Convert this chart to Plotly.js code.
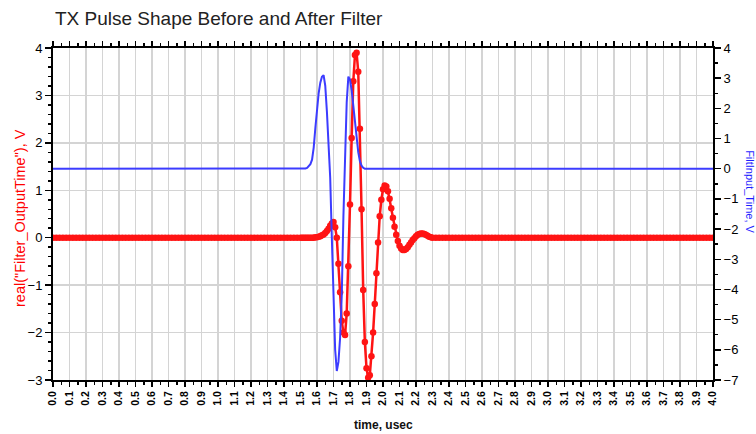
<!DOCTYPE html>
<html>
<head>
<meta charset="utf-8">
<script src="https://cdn.plot.ly/plotly-3.0.1.min.js"></script>
<style>html,body{margin:0;padding:0;background:#fff;}#chart{width:756px;height:434px;}</style>
</head>
<body>
<div id="chart"></div>
<script>
// Filter output (left axis, red) sample times in usec
const redTime = [
0,0.02,0.04,0.06,0.08,0.1,0.12,0.14,0.16,0.18,0.2,0.22,0.24,0.26,0.28,0.3,0.32,0.34,0.36,0.38,
0.4,0.42,0.44,0.46,0.48,0.5,0.52,0.54,0.56,0.58,0.6,0.62,0.64,0.66,0.68,0.7,0.72,0.74,0.76,0.78,
0.8,0.82,0.84,0.86,0.88,0.9,0.92,0.94,0.96,0.98,1,1.02,1.04,1.06,1.08,1.1,1.12,1.14,1.16,1.18,
1.2,1.22,1.24,1.26,1.28,1.3,1.32,1.34,1.36,1.38,1.4,1.42,1.44,1.46,1.48,
1.5,1.51,1.52,1.53,1.54,1.55,1.56,1.57,1.58,1.59,1.6,1.61,1.62,1.63,1.64,1.65,1.66,1.67,1.68,1.69,
1.7,1.71,1.72,1.73,1.74,1.75,1.76,1.77,1.78,1.79,1.8,1.81,1.82,1.83,1.84,1.85,1.86,1.87,1.88,1.89,
1.9,1.91,1.92,1.93,1.94,1.95,1.96,1.97,1.98,1.99,2,2.01,2.02,2.03,2.04,2.05,2.06,2.07,2.08,2.09,
2.1,2.11,2.12,2.13,2.14,2.15,2.16,2.17,2.18,2.19,2.2,2.21,2.22,2.23,2.24,2.25,2.26,2.27,2.28,2.29,2.3,
2.32,2.34,2.36,2.38,2.4,2.42,2.44,2.46,2.48,2.5,2.52,2.54,2.56,2.58,2.6,2.62,2.64,2.66,2.68,2.7,
2.72,2.74,2.76,2.78,2.8,2.82,2.84,2.86,2.88,2.9,2.92,2.94,2.96,2.98,3,3.02,3.04,3.06,3.08,3.1,
3.12,3.14,3.16,3.18,3.2,3.22,3.24,3.26,3.28,3.3,3.32,3.34,3.36,3.38,3.4,3.42,3.44,3.46,3.48,3.5,
3.52,3.54,3.56,3.58,3.6,3.62,3.64,3.66,3.68,3.7,3.72,3.74,3.76,3.78,3.8,3.82,3.84,3.86,3.88,3.9,
3.92,3.94,3.96,3.98,4
];
// real("Filter_OutputTime"), V
const redValue = [
0,0,0,0,0,0,0,0,0,0,0,0,0,0,0,0,0,0,0,0,
0,0,0,0,0,0,0,0,0,0,0,0,0,0,0,0,0,0,0,0,
0,0,0,0,0,0,0,0,0,0,0,0,0,0,0,0,0,0,0,0,
0,0,0,0,0,0,0,0,0,0,0,0,0,0,0,
0,0,0,0,0,0,0,0,0,0.01,0.01,0.02,0.03,0.05,0.07,0.1,0.14,0.19,0.25,0.3,
0.33,0.22,0,-0.55,-1.15,-1.75,-2.0,-2.05,-1.6,-0.6,0.7,2.1,3.3,3.85,3.9,3.5,2.3,0.6,-1.1,-2.2,
-2.75,-2.95,-2.9,-2.5,-2.0,-1.4,-0.75,-0.1,0.45,0.8,1.02,1.1,1.08,0.98,0.82,0.62,0.42,0.23,0.06,-0.07,
-0.17,-0.23,-0.26,-0.26,-0.24,-0.2,-0.15,-0.1,-0.05,-0.01,0.03,0.06,0.08,0.09,0.09,0.08,0.06,0.04,0.02,0.01,0,
0,0,0,0,0,0,0,0,0,0,0,0,0,0,0,0,0,0,0,0,
0,0,0,0,0,0,0,0,0,0,0,0,0,0,0,0,0,0,0,0,
0,0,0,0,0,0,0,0,0,0,0,0,0,0,0,0,0,0,0,0,
0,0,0,0,0,0,0,0,0,0,0,0,0,0,0,0,0,0,0,0,
0,0,0,0,0
];
// Filter input (right axis, blue)
const blueTime = [
0,1.5,1.51,1.52,1.53,1.54,1.55,1.56,1.57,1.58,1.59,1.6,1.61,1.62,1.63,1.64,1.65,1.66,1.67,1.68,1.69,
1.7,1.71,1.72,1.73,1.74,1.75,1.76,1.77,1.78,1.79,1.8,1.81,1.82,1.83,1.84,1.85,1.86,1.87,1.88,1.89,1.9,4
];
const blueValue = [
0,0,0,0,0.01,0.03,0.08,0.15,0.3,0.7,1.35,1.95,2.5,2.85,3.05,3.1,2.75,1.9,0.9,-0.3,-2.3,
-4.6,-6.0,-6.7,-6.4,-5.6,-4.2,-1.6,0.6,2.2,3.05,2.95,2.6,2.1,1.55,1.0,0.55,0.25,0.1,0.03,0,0,0
];
const xTickVals = [0,0.1,0.2,0.3,0.4,0.5,0.6,0.7,0.8,0.9,1,1.1,1.2,1.3,1.4,1.5,1.6,1.7,1.8,1.9,2,
2.1,2.2,2.3,2.4,2.5,2.6,2.7,2.8,2.9,3,3.1,3.2,3.3,3.4,3.5,3.6,3.7,3.8,3.9,4];
const xTickText = ["0.0","0.1","0.2","0.3","0.4","0.5","0.6","0.7","0.8","0.9","1.0","1.1","1.2","1.3","1.4",
"1.5","1.6","1.7","1.8","1.9","2.0","2.1","2.2","2.3","2.4","2.5","2.6","2.7","2.8","2.9","3.0",
"3.1","3.2","3.3","3.4","3.5","3.6","3.7","3.8","3.9","4.0"];
const leftTitle = 'real("Filter_OutputTime"), V';
const rightTitle = 'FiltInput_Time, V';
const chartTitle = 'TX Pulse Shape Before and After Filter';
const xTitle = 'time, usec';

const traces = [
  {x: blueTime, y: blueValue, type: 'scatter', mode: 'lines', yaxis: 'y2',
   line: {color: 'rgb(60,60,255)', width: 2}, hoverinfo: 'skip'},
  {x: redTime, y: redValue, type: 'scatter', mode: 'lines+markers', yaxis: 'y',
   line: {color: 'rgb(255,20,20)', width: 2.5}, marker: {color: 'rgb(255,20,20)', size: 6.5}}
];
const F = 'Arial, "Liberation Sans", sans-serif';
const layout = {
  width: 756, height: 434,
  margin: {l: 53, r: 43, t: 48, b: 54},
  paper_bgcolor: '#fff', plot_bgcolor: '#fff',
  showlegend: false,
  font: {family: F, color: '#000', size: 11},
  title: {text: chartTitle, x: 55/756, xanchor: 'left', xref: 'container', y: 1 - 18/434, yanchor: 'middle', yref: 'container',
          font: {family: F, size: 19, color: '#222'}},
  xaxis: {range: [0, 4], tickmode: 'array', tickvals: xTickVals, ticktext: xTickText, tickangle: -90,
          tickfont: {size: 10.5, color: '#000', weight: 'bold'}, ticks: 'outside', ticklen: 5, tickwidth: 1.5, tickcolor: '#000',
          showline: true, linecolor: '#000', linewidth: 2, mirror: 'ticks',
          showgrid: true, gridcolor: '#d4d4d4', gridwidth: 1.5, zeroline: false,
          minor: {dtick: 0.05, ticks: 'outside', ticklen: 3, tickcolor: '#000', showgrid: false}},
  yaxis: {range: [-3, 4], dtick: 1, tick0: 0, ticks: 'outside', ticklen: 6, tickwidth: 1.5, tickcolor: '#000',
          tickfont: {size: 13, color: '#000'},
          showline: true, linecolor: '#000', linewidth: 2, mirror: false,
          showgrid: true, gridcolor: '#d4d4d4', gridwidth: 1.5, zeroline: false,
          minor: {dtick: 0.2, ticks: 'outside', ticklen: 3, tickcolor: '#000', showgrid: false}},
  yaxis2: {range: [-7, 4], dtick: 1, tick0: 0, overlaying: 'y', side: 'right', ticks: 'outside', ticklen: 6, tickwidth: 1.5, tickcolor: '#000',
          tickfont: {size: 13, color: '#000'},
          showline: true, linecolor: '#000', linewidth: 2, showgrid: false, zeroline: false,
          minor: {dtick: 0.5, ticks: 'outside', ticklen: 3, tickcolor: '#000', showgrid: false}},
  annotations: [
    {text: leftTitle, xref: 'paper', yref: 'paper', x: -0.05, y: 0.488, textangle: -90, showarrow: false,
     xanchor: 'center', yanchor: 'middle', font: {family: F, size: 14.5, color: 'rgb(255,0,0)'}},
    {text: rightTitle, xref: 'paper', yref: 'paper', x: 1.056, y: 0.566, textangle: 90, showarrow: false,
     xanchor: 'center', yanchor: 'middle', font: {family: F, size: 11, color: 'rgb(30,30,255)'}},
    {text: xTitle, xref: 'paper', yref: 'paper', x: 0.5, y: -0.1355, showarrow: false,
     xanchor: 'center', yanchor: 'middle', font: {family: F, size: 12, color: '#111', weight: 'bold'}}
  ]
};
Plotly.newPlot('chart', traces, layout, {staticPlot: true, displayModeBar: false});
</script>
</body>
</html>
